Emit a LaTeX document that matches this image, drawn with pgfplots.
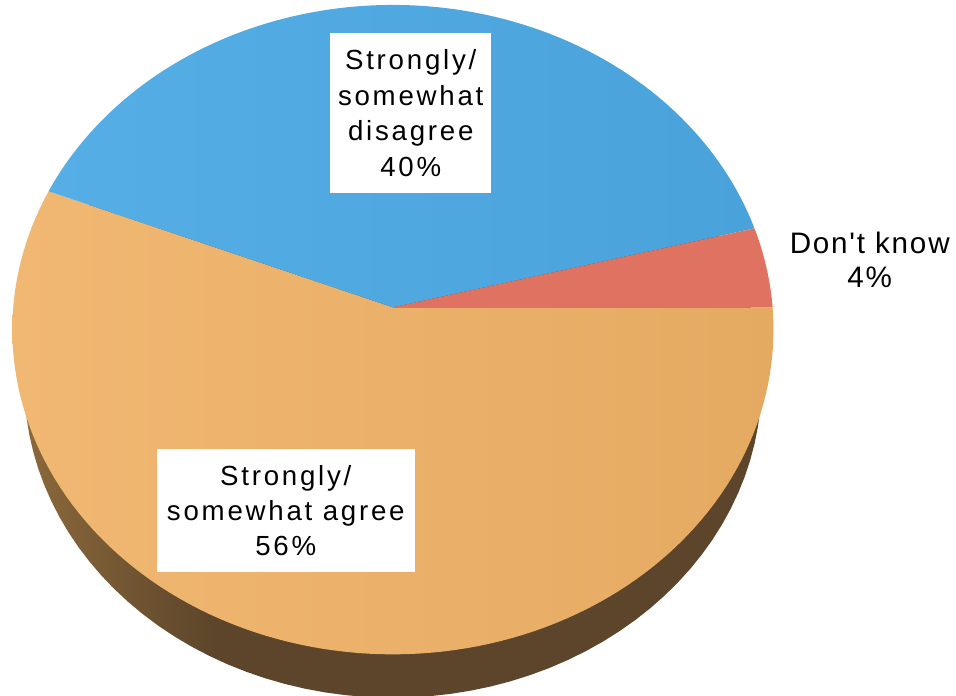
\documentclass[border=0pt]{standalone}
\usepackage{pgfplots}
\pgfplotsset{compat=1.18}
\usepackage{pgfplotstable}
\usepackage{fontspec}
\setmainfont{Liberation Sans}
\newfontfamily\lab{Liberation Sans}[LetterSpace=10]
\newfontfamily\labdk{Liberation Sans}[LetterSpace=6]
\definecolor{cblue}{HTML}{4EA8E0}
\definecolor{cblueL}{HTML}{55AEE5}
\definecolor{cblueR}{HTML}{4AA2DA}
\definecolor{cred}{HTML}{E07262}
\definecolor{corL}{HTML}{F1B873}
\definecolor{corR}{HTML}{E5AA62}
\definecolor{cbrL}{HTML}{9C7542}
\definecolor{cbrD}{HTML}{5C452A}
\pgfdeclarehorizontalshading{sideshade}{100bp}{color(0bp)=(cbrL); color(25bp)=(cbrL!75!cbrD); color(38bp)=(cbrD); color(100bp)=(cbrD)}

\pgfplotstableread{
label value
agree 56
disagree 40
dontknow 4
}\piedata

\begin{document}
\pgfplotstablegetelem{0}{value}\of\piedata \let\vA\pgfplotsretval
\pgfplotstablegetelem{1}{value}\of\piedata \let\vB\pgfplotsretval
\pgfplotstablegetelem{2}{value}\of\piedata \let\vC\pgfplotsretval
\pgfmathsetmacro\aOne{3.6*\vC}
\pgfmathsetmacro\aTwo{\aOne+3.6*\vB}
\pgfmathsetmacro\aThree{\aTwo+3.6*\vA}
\begin{tikzpicture}
\begin{axis}[
  x=1bp, y=1bp,
  xmin=0, xmax=956, ymin=0, ymax=702,
  axis lines=none, clip=false,
]
% side (lower rim)
\addplot[draw=none, shade, shading=sideshade,
  domain=0:360, samples=120, variable=\t]
  ({388+371*cos(t)/(1+0.0687*sin(t))}, {338+316.5*sin(t)/(1+0.0687*sin(t))}) -- cycle;
% agree
\addplot[draw=none, left color=corL, right color=corR,
  domain=\aTwo:\aThree, samples=120, variable=\t]
  ({388+383*cos(t)/(1+0.0687*sin(t))}, {392+326*sin(t)/(1+0.0687*sin(t))}) -- (axis cs:388,392) -- cycle;
% disagree
\addplot[draw=none, left color=cblueL, right color=cblueR,
  domain=\aOne:\aTwo, samples=100, variable=\t]
  ({388+383*cos(t)/(1+0.0687*sin(t))}, {392+326*sin(t)/(1+0.0687*sin(t))}) -- (axis cs:388,392) -- cycle;
% don't know
\addplot[draw=none, fill=cred,
  domain=0:\aOne, samples=20, variable=\t]
  ({388+383*cos(t)/(1+0.0687*sin(t))}, {392+326*sin(t)/(1+0.0687*sin(t))}) -- (axis cs:388,392) -- cycle;

\node[fill=white, inner sep=0pt, minimum width=162bp, minimum height=162bp, align=center,
  font=\lab\fontsize{28}{36}\selectfont] at (axis cs:406,588) {Strongly/\\somewhat\\disagree\\40\%};
\node[fill=white, inner sep=0pt, minimum width=260bp, minimum height=124bp, align=center,
  font=\lab\fontsize{28}{35}\selectfont] at (axis cs:280,187) {Strongly/\\somewhat agree\\56\%};
\node[inner sep=0pt, align=center,
  font=\labdk\fontsize{30}{35}\selectfont] at (axis cs:869,440) {Don't know\\4\%};
\end{axis}
\pgfresetboundingbox
\path[use as bounding box] (0,0) rectangle (956bp,702bp);
\end{tikzpicture}
\end{document}
